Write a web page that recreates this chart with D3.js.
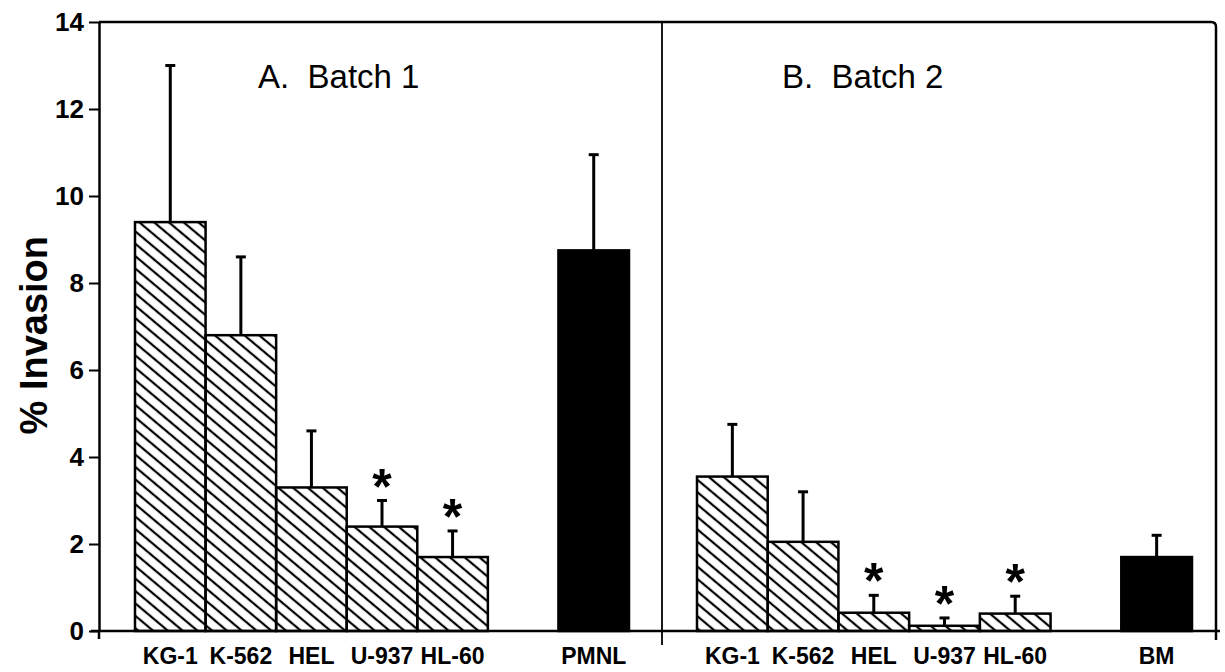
<!DOCTYPE html>
<html>
<head>
<meta charset="utf-8">
<script src="https://cdn.jsdelivr.net/npm/d3@7"></script>
<style>
  body { margin: 0; background: #fff; }
  svg { display: block; }
  text { font-family: "Liberation Sans", Arial, sans-serif; fill: #000; }
</style>
</head>
<body>
<div id="chart"></div>
<script>
// cell lines shared by both batches
const cellLines = ["KG-1", "K-562", "HEL", "U-937", "HL-60"];

// Batch 1 (panel A)
const meansA = [9.4, 6.8, 3.3, 2.4, 1.7];
const errA = [3.6, 1.8, 1.3, 0.6, 0.6];
const starsA = [false, false, false, true, true];

// Batch 2 (panel B)
const meansB = [3.55, 2.05, 0.42, 0.12, 0.4];
const errB = [1.2, 1.15, 0.4, 0.18, 0.4];
const starsB = [false, false, true, true, true];

// normal-cell controls, one per panel
const controlLabels = ["PMNL", "BM"];
const controlMeans = [8.75, 1.7];
const controlErr = [2.2, 0.5];

const panelTitles = ["A.  Batch 1", "B.  Batch 2"];
const yTicks = [0, 2, 4, 6, 8, 10, 12, 14];

function drawChart() {
    const width = 1225, height = 672;
    const axisX = 99, baseY = 631, topY = 22, rightX = 1216, dividerX = 662;

    const svg = d3.select("#chart")
        .append("svg")
        .attr("width", width)
        .attr("height", height);

    // hatch pattern for the leukemic cell lines
    const defs = svg.append("defs");
    const pat = defs.append("pattern")
        .attr("id", "hatch")
        .attr("patternUnits", "userSpaceOnUse")
        .attr("width", 20)
        .attr("height", 9.5)
        .attr("patternTransform", "rotate(40)");
    pat.append("line")
        .attr("x1", 0).attr("x2", 20)
        .attr("y1", 4.75).attr("y2", 4.75)
        .attr("stroke", "#000")
        .attr("stroke-width", 2.2);

    const yScale = d3.scaleLinear()
        .domain([0, 14])
        .range([baseY, topY]);

    const panels = [
        { means: meansA, err: errA, stars: starsA, range: [135, 629], title: panelTitles[0], titleX: 258 },
        { means: meansB, err: errB, stars: starsB, range: [697, 1192], title: panelTitles[1], titleX: 782 }
    ];

    panels.forEach((p, i) => {
        const rows = cellLines.map((c, k) => ({
            label: c, mean: p.means[k], err: p.err[k], star: p.stars[k], fill: "url(#hatch)"
        }));
        rows.push({ label: controlLabels[i], mean: controlMeans[i], err: controlErr[i], star: false, fill: "#000" });

        const xScale = d3.scaleBand()
            .domain([...cellLines, "gap", controlLabels[i]])
            .range(p.range)
            .padding(0);

        const g = svg.append("g");

        // error bars (drawn first so the bar outline covers their foot)
        const eb = g.selectAll(".err")
            .data(rows)
            .enter()
            .append("g")
            .attr("class", "err");
        eb.append("line")
            .attr("x1", d => xScale(d.label) + xScale.bandwidth() / 2)
            .attr("x2", d => xScale(d.label) + xScale.bandwidth() / 2)
            .attr("y1", d => yScale(d.mean))
            .attr("y2", d => yScale(d.mean + d.err))
            .attr("stroke", "#000")
            .attr("stroke-width", 3);
        eb.append("line")
            .attr("x1", d => xScale(d.label) + xScale.bandwidth() / 2 - 5)
            .attr("x2", d => xScale(d.label) + xScale.bandwidth() / 2 + 5)
            .attr("y1", d => yScale(d.mean + d.err))
            .attr("y2", d => yScale(d.mean + d.err))
            .attr("stroke", "#000")
            .attr("stroke-width", 3);

        // bars
        g.selectAll(".bar")
            .data(rows)
            .enter()
            .append("rect")
            .attr("class", "bar")
            .attr("x", d => xScale(d.label))
            .attr("y", d => yScale(d.mean))
            .attr("width", xScale.bandwidth())
            .attr("height", d => baseY - yScale(d.mean))
            .attr("fill", d => d.fill)
            .attr("stroke", "#000")
            .attr("stroke-width", 2.5);

        // significance stars
        g.selectAll(".star")
            .data(rows.filter(d => d.star))
            .enter()
            .append("text")
            .attr("class", "star")
            .attr("x", d => xScale(d.label) + xScale.bandwidth() / 2)
            .attr("y", d => yScale(d.mean + d.err) + 3)
            .attr("text-anchor", "middle")
            .attr("font-size", "50px")
            .attr("font-weight", "bold")
            .text("*");

        // category labels
        const xAxis = svg.append("g")
            .attr("transform", `translate(0,${baseY})`)
            .call(d3.axisBottom(xScale)
                .tickSize(0)
                .tickPadding(17)
                .tickFormat(d => d === "gap" ? "" : d));
        xAxis.select(".domain").remove();
        xAxis.selectAll("text")
            .attr("font-size", "23px")
            .attr("font-weight", "bold")
            .attr("font-family", "Liberation Sans, Arial, sans-serif");

        // panel title
        svg.append("text")
            .attr("x", p.titleX)
            .attr("y", 88)
            .attr("font-size", "33px")
            .style("white-space", "pre")
            .text(p.title);
    });

    // frame: top edge, rounded top-right corner, right edge
    svg.append("path")
        .attr("d", `M${axisX},${topY} H${rightX - 5} Q${rightX},${topY} ${rightX},${topY + 5} V${baseY + 9}`)
        .attr("fill", "none")
        .attr("stroke", "#000")
        .attr("stroke-width", 2.5);

    // baseline
    svg.append("line")
        .attr("x1", axisX - 8).attr("x2", rightX + 4)
        .attr("y1", baseY).attr("y2", baseY)
        .attr("stroke", "#000")
        .attr("stroke-width", 2.5);

    // divider between the batches
    svg.append("line")
        .attr("x1", dividerX).attr("x2", dividerX)
        .attr("y1", topY).attr("y2", baseY + 14)
        .attr("stroke", "#000")
        .attr("stroke-width", 1.8);

    // y-axis
    const yAxis = svg.append("g")
        .attr("transform", `translate(${axisX},0)`)
        .call(d3.axisLeft(yScale)
            .tickValues(yTicks)
            .tickSize(10)
            .tickPadding(5)
            .tickSizeOuter(0));
    yAxis.select(".domain").attr("stroke-width", 2.5);
    yAxis.selectAll(".tick line").attr("stroke-width", 2);
    yAxis.selectAll("text")
        .attr("font-size", "26px")
        .attr("font-weight", "bold")
        .attr("font-family", "Liberation Sans, Arial, sans-serif");
    svg.append("line")
        .attr("x1", axisX).attr("x2", axisX)
        .attr("y1", baseY).attr("y2", baseY + 8)
        .attr("stroke", "#000")
        .attr("stroke-width", 2.5);

    // y-axis label
    svg.append("text")
        .attr("transform", `translate(47,${yScale(6.8)}) rotate(-90)`)
        .attr("text-anchor", "middle")
        .attr("font-size", "38px")
        .attr("font-weight", "bold")
        .text("% Invasion");
}

drawChart();
</script>
</body>
</html>
